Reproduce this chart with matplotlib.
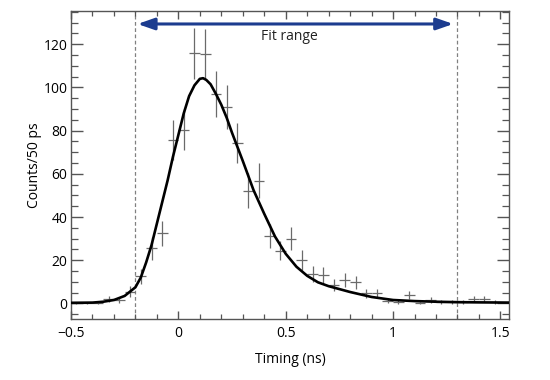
import matplotlib
matplotlib.use("Agg")
import matplotlib.pyplot as plt
from matplotlib.ticker import MultipleLocator

plt.rcParams['font.family'] = ['Open Sans', 'DejaVu Sans']

# Histogram bin centres (ns), counts and errors
bin_x = [-0.475, -0.425, -0.375, -0.325, -0.275, -0.225, -0.175, -0.125, -0.075, -0.025,
         0.025, 0.075, 0.125, 0.175, 0.225, 0.275, 0.325, 0.375, 0.425, 0.475,
         0.525, 0.575, 0.625, 0.675, 0.725, 0.775, 0.825, 0.875, 0.925, 0.975,
         1.025, 1.075, 1.125, 1.175, 1.225, 1.275, 1.325, 1.375, 1.425, 1.475]
counts = [0.3, 0.3, 0.3, 2.1, 1.6, 5.5, 12.5, 25.5, 32.5, 75.5,
          80.5, 115.8, 115.5, 97.0, 90.8, 74.4, 52.2, 56.8, 31.2, 24.5,
          30.0, 20.1, 13.7, 13.2, 8.5, 10.9, 9.8, 4.7, 4.7, 1.2,
          0.8, 3.9, 0.2, 1.6, 0.8, 0.8, 0.8, 1.9, 1.9, 0.8]
errors = [0.6, 0.6, 0.6, 1.5, 1.3, 2.4, 3.6, 5.2, 5.8, 9.3,
          9.5, 11.8, 11.8, 10.8, 10.2, 9.2, 8.0, 8.2, 5.5, 4.6,
          5.3, 4.5, 3.6, 3.6, 2.9, 3.3, 3.1, 2.2, 2.2, 1.2,
          1.0, 2.0, 0.5, 1.3, 1.0, 1.0, 1.0, 1.4, 1.4, 1.0]
bin_half = 0.025

# Fitted curve samples
fit_x = [-0.5, -0.4, -0.35, -0.3, -0.25, -0.2, -0.175, -0.15, -0.125, -0.1,
         -0.075, -0.05, -0.025, 0.0, 0.025, 0.05, 0.075, 0.1, 0.115, 0.13,
         0.15, 0.175, 0.2, 0.225, 0.25, 0.275, 0.3, 0.35, 0.4, 0.45,
         0.5, 0.55, 0.6, 0.65, 0.7, 0.8, 0.9, 1.0, 1.1, 1.2, 1.3, 1.4, 1.55]
fit_y = [0.3, 0.4, 0.8, 1.6, 3.5, 7.5, 12.0, 19.0, 27.0, 37.0,
         47.0, 57.0, 68.0, 78.0, 88.0, 96.0, 101.0, 104.0, 104.3, 103.5,
         101.5, 97.0, 92.0, 86.0, 79.0, 72.5, 66.0, 52.5, 41.5, 31.0,
         23.0, 17.0, 12.8, 9.8, 8.0, 5.3, 3.0, 1.6, 1.1, 0.8, 0.6, 0.5, 0.4]

fit_range = [-0.2, 1.3]
arrow_ends = [-0.19, 1.28]
arrow_y = 129.4

fig = plt.figure(figsize=(5.5, 3.8), dpi=100)
ax = fig.add_axes([0.1291, 0.1605, 0.7964, 0.8105])

spine_col = '#555555'
for s in ax.spines.values():
    s.set_color(spine_col)
    s.set_linewidth(1.0)

ax.errorbar(bin_x, counts, yerr=errors, xerr=bin_half, fmt='none',
            ecolor='#6a6a6a', elinewidth=0.9, capsize=0, zorder=2)
ax.plot(fit_x, fit_y, color='black', lw=1.9, zorder=3)

for xv in fit_range:
    ax.axvline(xv, color='#808080', lw=0.9, ls=(0, (3, 2)), zorder=1)

ax.annotate('', xy=(arrow_ends[0], arrow_y), xytext=(arrow_ends[1], arrow_y),
            arrowprops=dict(arrowstyle='<|-|>,head_length=1.0,head_width=0.35',
                            color='#1c3c8f', lw=2.2, shrinkA=0, shrinkB=0))
ax.text(0.518, 123.5, 'Fit range', ha='center', va='center', fontsize=10, color='#222222')

ax.set_xlim(-0.5, 1.54)
ax.set_ylim(-7.2, 135.4)
ax.xaxis.set_major_locator(MultipleLocator(0.5))
ax.xaxis.set_minor_locator(MultipleLocator(0.1))
ax.yaxis.set_major_locator(MultipleLocator(20))
ax.yaxis.set_minor_locator(MultipleLocator(5))
ax.set_xticks([-0.5, 0, 0.5, 1, 1.5])
ax.set_xticklabels(['\u22120.5', '0', '0.5', '1', '1.5'])

ax.tick_params(axis='both', which='both', direction='in', top=True, right=True,
               colors=spine_col, labelcolor='black', labelsize=10)
ax.tick_params(axis='x', which='major', length=6, width=1, pad=5)
ax.tick_params(axis='x', which='minor', length=3.5, width=0.9)
ax.tick_params(axis='y', which='major', length=8.5, width=1, pad=2.5)
ax.tick_params(axis='y', which='minor', length=5, width=0.9)

ax.set_xlabel('Timing (ns)', fontsize=10, labelpad=8)
ax.set_ylabel('Counts/50 ps', fontsize=10, labelpad=1)

fig.savefig('out.png', dpi=100)
